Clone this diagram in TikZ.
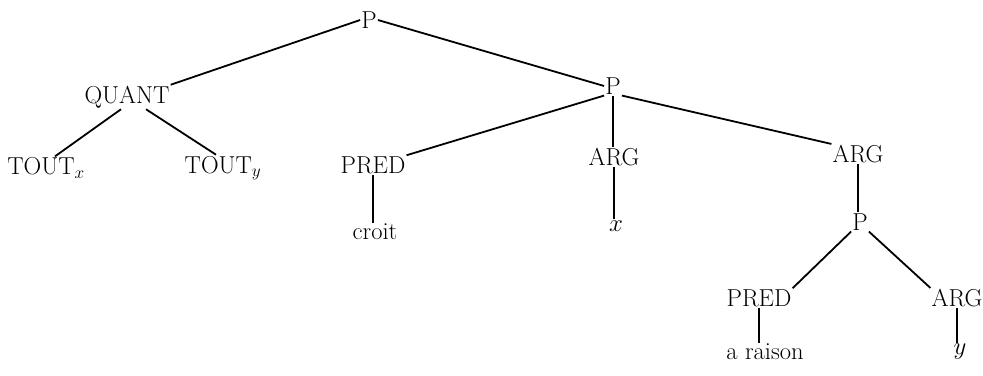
\documentclass[tikz,border=0pt]{standalone}
\begin{document}
\begin{tikzpicture}[x=1pt,y=-1pt,
  lab/.style={inner sep=1pt,font=\fontsize{24.5}{28}\selectfont},
  edge/.style={line width=1.8pt}]
\useasboundingbox (0,0) rectangle (983,375);
\node[lab] (p1) at (369,20) {P};
\node[lab] (quant) at (127,97) {QUANT};
\node[lab] (tx) at (46,168) {TOUT$_x$};
\node[lab] (ty) at (223,168) {TOUT$_y$};
\node[lab] (p2) at (613,86) {P};
\node[lab] (pred1) at (373,165) {PRED};
\node[lab] (croit) at (375,232) {croit};
\node[lab] (arg1) at (614,157) {ARG};
\node[lab] (x) at (616,226) {$x$};
\node[lab] (arg2) at (858,154) {ARG};
\node[lab] (p3) at (860,222) {P};
\node[lab] (pred2) at (759,298) {PRED};
\node[lab] (raison) at (765,352) {a raison};
\node[lab] (arg3) at (957,298) {ARG};
\node[lab] (y) at (960,352) {$y$};
\draw[edge] (p1.west) -- (quant.north east);
\draw[edge] (p1.east) -- (p2.west);
\draw[edge] ([xshift=-6pt]quant.south) -- ([xshift=9pt]tx.north);
\draw[edge] ([xshift=19pt]quant.south) -- ([xshift=-7pt]ty.north);
\draw[edge] (p2.south west) -- (pred1.north east);
\draw[edge] (p2.south) -- (p2.south |- arg1.north);
\draw[edge] (p2.south east) -- (arg2.north west);
\draw[edge] (pred1.south) -- (pred1.south |- croit.north);
\draw[edge] (arg1.south) -- (arg1.south |- x.north);
\draw[edge] (arg2.south) -- (arg2.south |- p3.north);
\draw[edge] (p3.south west) -- (pred2.north east);
\draw[edge] (p3.south east) -- (arg3.north west);
\draw[edge] (pred2.south) -- (pred2.south |- raison.north);
\draw[edge] (arg3.south) -- (arg3.south |- y.north);
\end{tikzpicture}
\end{document}
